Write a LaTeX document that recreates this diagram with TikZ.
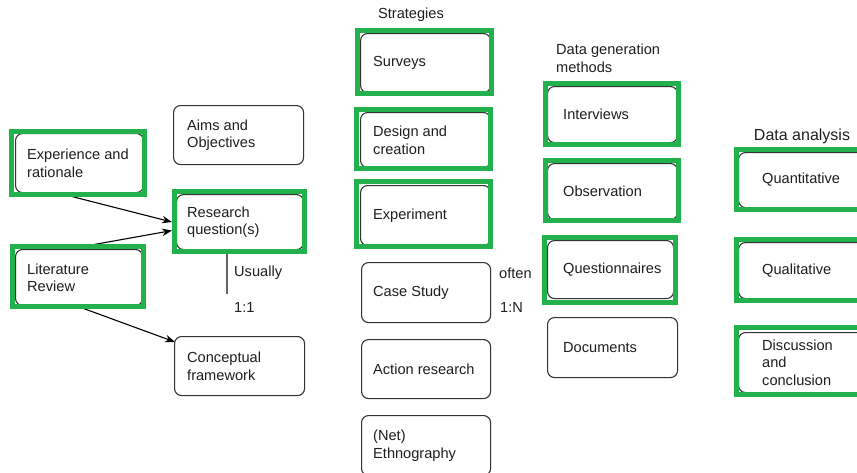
\documentclass[tikz,border=0pt]{standalone}
\usepackage{fontspec}
\setmainfont{Liberation Sans}
\usetikzlibrary{arrows.meta}
\definecolor{hlgreen}{RGB}{34,177,76}
\definecolor{boxline}{RGB}{51,51,51}
\definecolor{inkgray}{RGB}{30,30,30}
\pgfdeclarelayer{under}
\pgfsetlayers{under,main}

% \putbox{name}{left x}{top y}{width}{height}{text inset}{text}
\newcommand\putbox[7]{%
  \node[box, minimum width=#4pt, minimum height=#5pt, anchor=north west] (#1) at (#2,#3) {};
  \node[boxtext, anchor=west] (#1-txt) at ([xshift=#6pt]#1.west) {#7};}

\begin{document}
\begin{tikzpicture}[x=1pt, y=-1pt,
  box/.style={draw=boxline, fill=white, line width=1.1pt, rounded corners=7pt, inner sep=0pt},
  boxtext/.style={inner sep=0pt, align=left, text=inkgray, font=\fontsize{14.6}{17.5}\selectfont},
  lbl/.style={inner sep=0pt, anchor=west, align=left, text=inkgray, font=\fontsize{14.6}{17.5}\selectfont},
  hl/.style={draw=hlgreen, line width=5pt},
  conn/.style={draw=black, line width=1.1pt, -{Stealth[length=10pt,width=7.5pt]}},
  plain/.style={draw=black!60, line width=1.4pt}]

\useasboundingbox (0,0) rectangle (857,472);
\clip (0,0) rectangle (857,472);

% first column
\putbox{exp}{15}{133}{128}{59}{12}{Experience and\\rationale}
\putbox{lit}{15}{249}{127}{56}{12}{Literature\\Review}

% second column
\putbox{aims}{173}{105}{130}{59}{14}{Aims and\\Objectives}
\putbox{rq}{176}{194}{127}{55}{11}{Research\\question(s)}
\putbox{cf}{174}{336}{130}{59}{13}{Conceptual\\framework}

% strategies
\node[lbl, anchor=center] (strat) at (411,15) {Strategies};
\putbox{surveys}{360}{33}{130}{59}{13}{Surveys}
\putbox{design}{360}{112}{130}{55}{13}{Design and\\creation}
\putbox{experiment}{360}{185}{130}{60}{13}{Experiment}
\putbox{case}{361}{262}{129}{60}{12}{Case Study}
\putbox{action}{361}{339}{129}{59}{12}{Action research}
\putbox{ethno}{361}{415}{129}{60}{12}{(Net)\\Ethnography}

% data generation methods
\node[lbl] (dgm) at (556,58.5) {Data generation\\methods};
\putbox{interviews}{547}{86}{130}{56}{16}{Interviews}
\putbox{observation}{547}{163}{130}{56}{16}{Observation}
\putbox{questionnaires}{547}{240}{126}{58}{16}{Questionnaires}
\putbox{documents}{547}{317}{130}{60}{16}{Documents}

% data analysis
\node[lbl, anchor=center, font=\fontsize{16}{19}\selectfont] (dan) at (802,136) {Data analysis};
\putbox{quant}{738}{152}{130}{55}{24}{Quantitative}
\putbox{qual}{738}{242}{130}{56}{24}{Qualitative}
\putbox{disc}{738}{332}{130}{60}{24}{Discussion\\and\\conclusion}

% cardinality labels
\node[lbl] (usually) at (234,273) {Usually};
\node[lbl] (oneone) at (234,307) {1:1};
\node[lbl] (often) at (499,273) {often};
\node[lbl] (onen) at (500,307) {1:N};
\coordinate (rqend) at (227,294);

% connectors
\begin{pgfonlayer}{under}
  \draw[conn] ([xshift=-21pt]exp.south) -- ([xshift=-4pt]rq.west);
  \draw[conn] ([xshift=-10pt]lit.north) -- ([xshift=-4pt,yshift=-8.5pt]rq.west);
  \draw[conn] ([xshift=-2pt]lit.south) -- ([xshift=1pt,yshift=-6pt]cf.north west);
  \draw[plain] (rq.south -| rqend) -- (rqend);
\end{pgfonlayer}

% green highlight frames
\draw[hl] (11.5,131.5) rectangle (144.5,194.5);
\draw[hl] (12.5,246.5) rectangle (143.5,306.5);
\draw[hl] (174.5,191.5) rectangle (304.5,251.5);
\draw[hl] (357.5,30.5) rectangle (491.5,93.5);
\draw[hl] (356.5,109.5) rectangle (490.5,168.5);
\draw[hl] (356.5,181.5) rectangle (490.5,246.5);
\draw[hl] (545.5,83.5) rectangle (678.5,144.5);
\draw[hl] (545.5,160.5) rectangle (678.5,220.5);
\draw[hl] (544.5,237.5) rectangle (675.5,302.5);
\draw[hl] (736.5,149.5) rectangle (875,209.5);
\draw[hl] (736.5,239.5) rectangle (875,300.5);
\draw[hl] (736.5,327.5) rectangle (875,394.5);
\end{tikzpicture}
\end{document}
